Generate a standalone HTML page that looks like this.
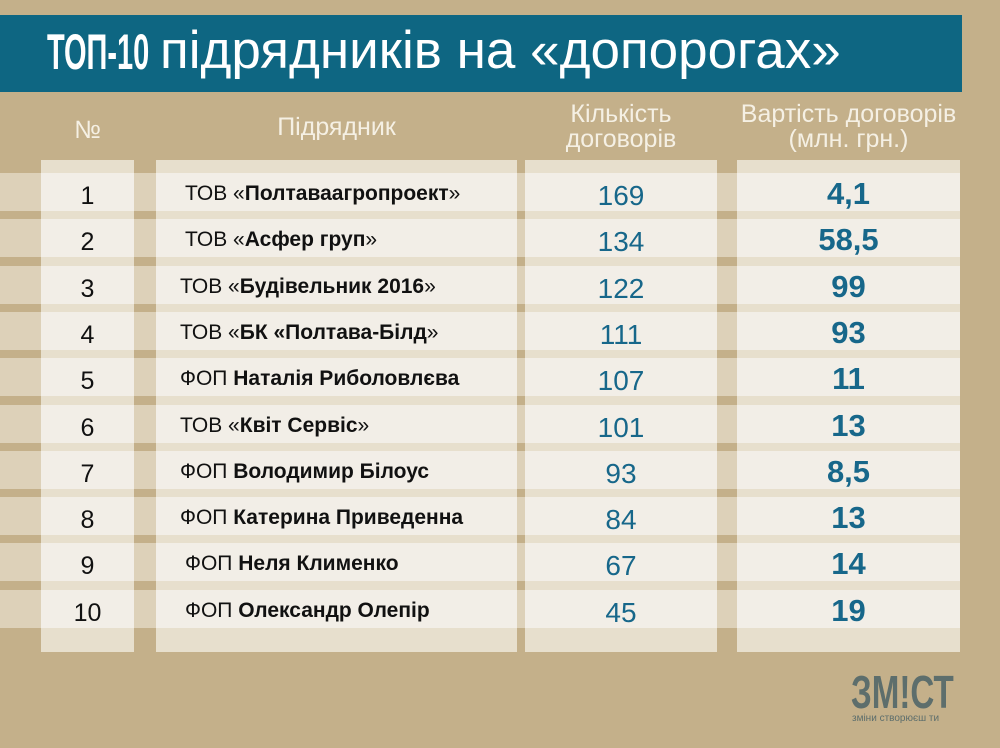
<!DOCTYPE html>
<html><head><meta charset="utf-8"><style>
body{margin:0;width:1000px;height:748px;background:#c4b08a;position:relative;overflow:hidden;font-family:"Liberation Sans","DejaVu Sans",sans-serif}
.a{position:absolute}
.banner{left:0;top:15px;width:962px;height:77px;background:#0e6682}
.t1{left:47px;top:24px;color:#fff;font-size:50px;font-weight:bold;line-height:56px;white-space:nowrap;transform:scaleX(.58);transform-origin:left}
.t2{left:160px;top:21px;color:#fff;font-size:53px;line-height:60px;white-space:nowrap}
.hd{color:#f5f0e4;font-size:25px;text-align:center;line-height:25px;white-space:nowrap}
.panel{background:#e7dfcd;top:160px;height:492px}
.num{font-size:25px;color:#111;text-align:center;line-height:46px}
.nm{font-size:21px;color:#111;line-height:38px;white-space:nowrap}
.c3{font-size:28px;color:#17678a;text-align:center;line-height:46px}
.c4{font-size:31px;color:#17678a;text-align:center;font-weight:bold;line-height:42px}
</style></head><body>
<div class="a banner"></div>
<div class="a t1">ТОП-10</div>
<div class="a t2">підрядників на «допорогах»</div>
<div class="a hd" style="left:41px;width:93px;top:118px">№</div>
<div class="a hd" style="left:156px;width:361px;top:115px">Підрядник</div>
<div class="a hd" style="left:525px;width:192px;top:102px">Кількість<br>договорів</div>
<div class="a hd" style="left:737px;width:223px;top:102px">Вартість договорів<br>(млн. грн.)</div>
<div class="a panel" style="left:41px;width:93px"></div>
<div class="a panel" style="left:156px;width:361px"></div>
<div class="a panel" style="left:525px;width:192px"></div>
<div class="a panel" style="left:737px;width:223px"></div>
<div id="rows"></div>
<div class="a" style="left:851px;top:670px;font-size:46px;font-weight:bold;color:#5d6e6c;line-height:44px;transform:scaleX(.72);transform-origin:left;white-space:nowrap">ЗМ!СТ</div>
<div class="a" style="left:852px;top:713px;font-size:10px;color:#5d6e6c">зміни створюєш ти</div>
<script>
var d=[["1","ТОВ «<b>Полтаваагропроект</b>»","169","4,1",185],["2","ТОВ «<b>Асфер груп</b>»","134","58,5",185],["3","ТОВ «<b>Будівельник 2016</b>»","122","99",180],["4","ТОВ «<b>БК «Полтава-Білд</b>»","111","93",180],["5","ФОП <b>Наталія Риболовлєва</b>","107","11",180],["6","ТОВ «<b>Квіт Сервіс</b>»","101","13",180],["7","ФОП <b>Володимир Білоус</b>","93","8,5",180],["8","ФОП <b>Катерина Приведенна</b>","84","13",180],["9","ФОП <b>Неля Клименко</b>","67","14",185],["10","ФОП <b>Олександр Олепір</b>","45","19",185]];
var h="";
for(var i=0;i<10;i++){var t=Math.round(173+i*46.3);var r=d[i];
h+='<div class="a" style="left:0;top:'+t+'px;width:960px;height:38px;background:#ddd1b9"></div>';
h+='<div class="a" style="left:41px;top:'+t+'px;width:93px;height:38px;background:#f2eee7"></div>';
h+='<div class="a" style="left:156px;top:'+t+'px;width:361px;height:38px;background:#f2eee7"></div>';
h+='<div class="a" style="left:525px;top:'+t+'px;width:192px;height:38px;background:#f2eee7"></div>';
h+='<div class="a" style="left:737px;top:'+t+'px;width:223px;height:38px;background:#f2eee7"></div>';
h+='<div class="a num" style="left:41px;top:'+t+'px;width:93px">'+r[0]+'</div>';
h+='<div class="a nm" style="left:'+r[4]+'px;top:'+(t+2)+'px">'+r[1]+'</div>';
h+='<div class="a c3" style="left:525px;top:'+t+'px;width:192px">'+r[2]+'</div>';
h+='<div class="a c4" style="left:737px;top:'+t+'px;width:223px">'+r[3]+'</div>';}
document.getElementById("rows").innerHTML=h;
</script>
</body></html>
